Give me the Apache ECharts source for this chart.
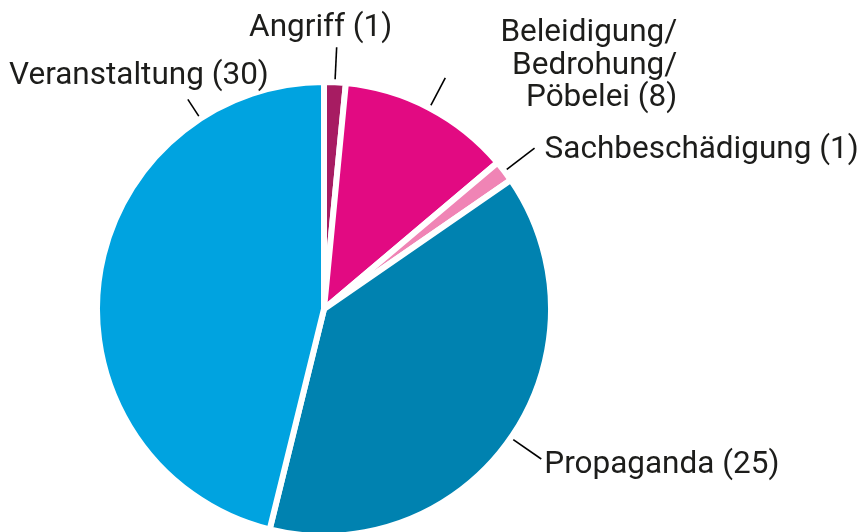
<!DOCTYPE html>
<html>
<head>
<meta charset="utf-8">
<script src="https://cdn.jsdelivr.net/npm/echarts@6/dist/echarts.min.js"></script>
<style>
html,body{margin:0;padding:0;background:#fff;}
#chart{width:863px;height:532px;}
</style>
</head>
<body>
<div id="chart"></div>
<script>
// ---- data ----
const categories = ['Angriff', 'Beleidigung/\nBedrohung/\nPöbelei', 'Sachbeschädigung', 'Propaganda', 'Veranstaltung'];
const values = [1, 8, 1, 25, 30];
const colors = ['#a71c62', '#e20a82', '#f084b5', '#0082b0', '#00a3e0'];

// ---- layout / style ----
const CX = 324, CY = 309, R = 227, BORDER = 6;
const labelPlace = [
  { rIn: 219, rOut: 262, dx: -16, dy: -19, align: 'center' },
  { rIn: 218, rOut: 261, dx: 232, dy: -12, align: 'right' },
  { rIn: 219, rOut: 265, dx: 10, dy: 2, align: 'left' },
  { rIn: 219, rOut: 264, dx: 3, dy: 6, align: 'left' },
  { angle: 327, rIn: 215, rOut: 250, dx: 81, dy: -23, align: 'right' }
];

const total = values.reduce((a, b) => a + b, 0);
const midAngles = [];
let acc = 0;
values.forEach(v => { midAngles.push((acc + v / 2) / total * 360); acc += v; });

function pt(angleDeg, r) {
  const a = angleDeg * Math.PI / 180;
  return [CX + r * Math.sin(a), CY - r * Math.cos(a)];
}

const chart = echarts.init(document.getElementById('chart'), null, { renderer: 'canvas' });
chart.setOption({
  animation: false,
  backgroundColor: '#ffffff',
  color: colors,
  series: [{
    type: 'pie',
    center: [CX, CY],
    radius: R,
    startAngle: 90,
    clockwise: true,
    avoidLabelOverlap: false,
    itemStyle: { borderColor: '#ffffff', borderWidth: BORDER },
    label: {
      show: true,
      position: 'outside',
      fontFamily: 'Roboto',
      fontSize: 31.5,
      lineHeight: 32.5,
      color: '#1d1d1b',
      formatter: p => p.name + ' (' + p.value + ')'
    },
    labelLine: { show: true, lineStyle: { color: '#000', width: 1.6 } },
    labelLayout: function (params) {
      const i = params.dataIndex;
      const c = labelPlace[i];
      const ang = c.angle !== undefined ? c.angle : midAngles[i];
      const p1 = pt(ang, c.rIn), p2 = pt(ang, c.rOut);
      return {
        x: p2[0] + c.dx,
        y: p2[1] + c.dy,
        align: c.align,
        verticalAlign: 'middle',
        labelLinePoints: [p1, p2, p2]
      };
    },
    emphasis: { disabled: true },
    data: categories.map((n, i) => ({ name: n, value: values[i] }))
  }]
});
</script>
</body>
</html>
